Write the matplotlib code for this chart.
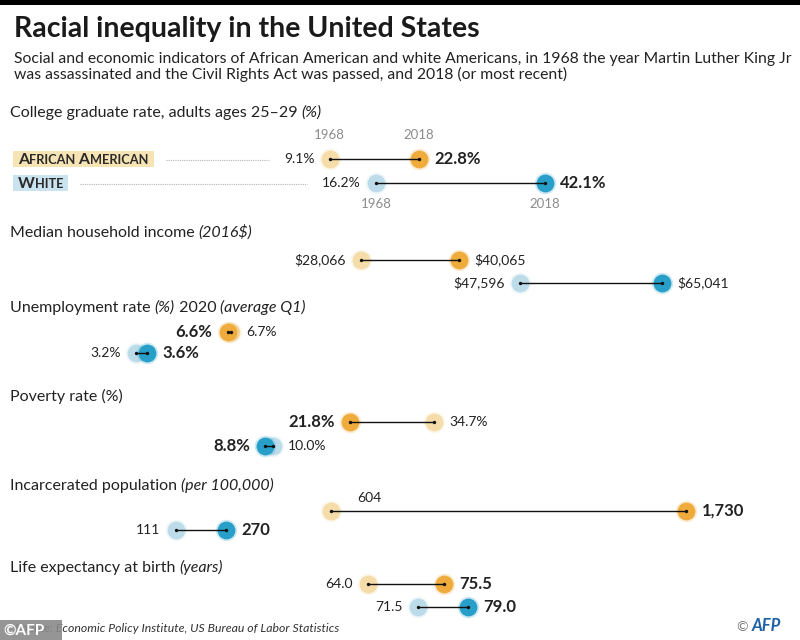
import numpy as np
from matplotlib import pyplot as plt
from matplotlib.lines import Line2D
from matplotlib.patches import Rectangle

plt.rcParams['font.family'] = ['Lato', 'DejaVu Sans']

W, H = 800, 640

# each pair is [1968, 2018 (or most recent)]
college_aa    = [9.1, 22.8]
college_white = [16.2, 42.1]
income_aa     = [28066, 40065]
income_white  = [47596, 65041]
unemp_aa      = [6.7, 6.6]
unemp_white   = [3.2, 3.6]
poverty_aa    = [34.7, 21.8]
poverty_white = [10.0, 8.8]
prison_aa     = [604, 1730]
prison_white  = [111, 270]
life_aa       = [64.0, 75.5]
life_white    = [71.5, 79.0]

years = ['1968', '2018']

headers = [
	[("College graduate rate, adults ages 25–29 ", 'normal'), ("(%)", 'italic')],
	[("Median household income ", 'normal'), ("(2016$)", 'italic')],
	[("Unemployment rate ", 'normal'), ("(%)", 'italic'), (" 2020 ", 'normal'), ("(average Q1)", 'italic')],
	[("Poverty rate (%)", 'normal')],
	[("Incarcerated population ", 'normal'), ("(per 100,000)", 'italic')],
	[("Life expectancy at birth ", 'normal'), ("(years)", 'italic')],
]
series  = [(college_aa, college_white), (income_aa, income_white), (unemp_aa, unemp_white),
           (poverty_aa, poverty_white), (prison_aa, prison_white), (life_aa, life_white)]
formats = ['{:.1f}%', '${:,.0f}', '{:.1f}%', '{:.1f}%', '{:,.0f}', '{:.1f}']
bold_recent = [True, False, True, True, True, True]

title    = "Racial inequality in the United States"
subtitle = ["Social and economic indicators of African American and white Americans, in 1968 the year Martin Luther King Jr",
            "was assassinated and the Civil Rights Act was passed, and 2018 (or most recent)"]
source   = "Source: Economic Policy Institute, US Bureau of Labor Statistics"

aa_light, aa_dark = '#f5dca8', '#efab3c'
wh_light, wh_dark = '#bddcea', '#279fc9'
ink = '#222222'

# layout (pixels from top left)
header_y = [117, 237, 312, 401, 490, 572]
rows     = [(159, 183), (260, 283), (332, 353), (422, 446), (511, 530), (584, 607)]
xlims    = [(-41.5, 81.3), (-16276, 81993), (-1.84, 27.79), (-31.84, 90.79), (-446, 2090), (8.5, 129.1)]

fig = plt.figure(figsize=(W / 100, H / 100), dpi=100)
fig.patch.set_facecolor('white')
R = fig.canvas.get_renderer()

def fx(x): return x / W
def fy(y): return 1 - y / H

def chain(x, y, parts, **kw):
	x0 = x
	for s, extra in parts:
		t = fig.text(fx(x), fy(y), s, va='baseline', **{**kw, **extra})
		x = t.get_window_extent(R).x1
	return x0, x

fig.add_artist(Rectangle((0, fy(5)), 1, 5 / H, transform=fig.transFigure, fc='black', ec='none'))
fig.text(fx(14), fy(37), title, fontsize=20.5, weight='bold', color='#1a1a1a', va='baseline')
for k, line in enumerate(subtitle):
	fig.text(fx(14), fy(63 + 16 * k), line, fontsize=11.3, color=ink, va='baseline')

left_labels = []
for i, (aa, wh) in enumerate(series):
	chain(10, header_y[i], [(s, dict(style=st)) for s, st in headers[i]], fontsize=11.5, color=ink)

	ra, rw = rows[i]
	gap, pad = rw - ra, 15
	ax = fig.add_axes([0, fy(rw + pad), 1, (gap + 2 * pad) / H])
	ax.set_xlim(*xlims[i])
	ax.set_ylim(1 + pad / gap, -pad / gap)
	ax.axis('off')
	ax.patch.set_alpha(0)

	lefts = []
	for row, vals, light, dark in [(0, aa, aa_light, aa_dark), (1, wh, wh_light, wh_dark)]:
		ax.plot(vals, [row, row], color='#111111', lw=1.0, zorder=4, solid_capstyle='butt')
		ax.scatter([vals[0]], [row], s=240, color=light, alpha=0.22, lw=0, zorder=1)
		ax.scatter([vals[0]], [row], s=165, color=light, lw=0, zorder=2)
		ax.scatter([vals[1]], [row], s=240, color=dark, alpha=0.22, lw=0, zorder=2.5)
		ax.scatter([vals[1]], [row], s=165, color=dark, lw=0, zorder=3)
		ax.scatter(vals, [row, row], s=6, color='#111111', lw=0, zorder=5)

		lo, hi = (0, 1) if vals[0] <= vals[1] else (1, 0)
		for k, side in [(lo, -1), (hi, 1)]:
			bold = bold_recent[i] and k == 1
			off, ha = (side * 11, 0), ('right' if side < 0 else 'left')
			if i == 4 and row == 0 and k == 0:
				off, ha = (19, 9.5), 'left'
			a = ax.annotate(formats[i].format(vals[k]), (vals[k], row), xytext=off, textcoords='offset points',
			                ha=ha, va='center', fontsize=12 if bold else 10,
			                weight='bold' if bold else 'normal', color=ink)
			if side < 0:
				lefts.append(a)

		if i == 0:
			dy = 17 if row == 0 else -15
			for k in range(2):
				ax.annotate(years[k], (vals[k], row), xytext=(0, dy), textcoords='offset points',
				            ha='center', va='center', fontsize=9.5, color='#8c8c8c')
	left_labels.append(lefts)

# legend boxes with small caps
legend = [("AFRICAN", "AMERICAN", '#f7e4b5'), ("WHITE", None, '#c9e3ef')]
for j, (w1, w2, box) in enumerate(legend):
	row = rows[0][j]
	parts = [(w1[0], dict(fontsize=11.5)), (w1[1:], dict(fontsize=9.2))]
	if w2:
		parts += [(" " + w2[0], dict(fontsize=11.5)), (w2[1:], dict(fontsize=9.2))]
	x0, x1 = chain(18, row + 5, parts, weight='bold', color='#2a2a2a', zorder=3)
	fig.add_artist(Rectangle((fx(13), fy(row + 8)), (x1 + 5 - 13) / W, 16 / H,
	                         transform=fig.transFigure, fc=box, ec='none', zorder=1))
	end = left_labels[0][j].get_window_extent(R).x0 - 15
	fig.add_artist(Line2D([fx(x1 + 17), fx(end)], [fy(row + 1), fy(row + 1)], transform=fig.transFigure,
	                      ls=(0, (1, 1)), color='#b5b5b5', lw=0.8))

# footer
fig.text(fx(15), fy(632), source, fontsize=8.8, style='italic', color='#333333', va='baseline')
fig.add_artist(Rectangle((0, fy(640)), 62 / W, 20 / H, transform=fig.transFigure,
                         fc='#8a8a8a', ec='none', alpha=0.9, zorder=4))
fig.text(fx(3), fy(635), "©AFP", fontsize=11, weight='bold', color='white', va='baseline', zorder=5)
chain(737, 631, [("© ", dict(fontsize=10, color='#777777')),
                 ("AFP", dict(fontsize=12, weight='bold', style='italic', color='#1f5fa8'))])

fig.savefig('out.png', dpi=100)
